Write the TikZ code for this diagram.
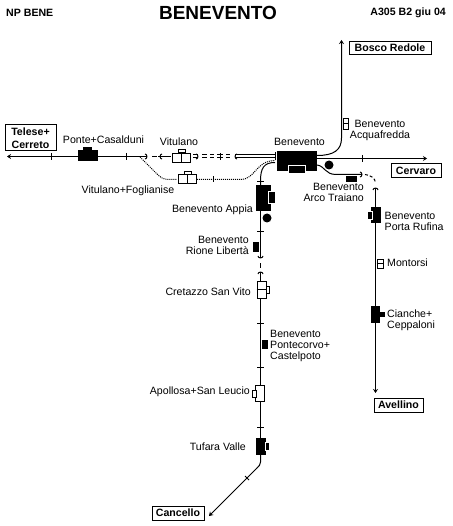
\documentclass[tikz,border=0pt]{standalone}
\usepackage{fontspec}
\setmainfont{Liberation Sans}
\usetikzlibrary{arrows.meta}
\tikzset{
  lbl/.style={inner sep=0pt,font=\fontsize{10.6}{11}\selectfont},
  endbox/.style={draw,line width=1pt,fill=white,inner sep=0pt,align=center,font=\fontsize{10.6}{12.5}\selectfont\bfseries},
  blk/.style={fill=black,inner sep=0pt},
  wht/.style={draw,line width=1pt,fill=white,inner sep=0pt},
  trk/.style={line width=1pt},
  dot/.style={line width=1pt,dash pattern=on 1pt off 1pt},
  hook/.pic={\draw[line width=1pt] (-2,-2.5) .. controls (0.5,-2.5) and (0.5,2.5) .. (-2,2.5);}
}
\begin{document}
\begin{tikzpicture}[x=1pt,y=-1pt]
  \useasboundingbox (0,0) rectangle (452,526);
  % header
  \node[lbl,anchor=west,font=\fontsize{10.6}{11}\selectfont\bfseries] (sigla) at (6,13) {NP BENE};
  \node[lbl,anchor=center,font=\fontsize{19}{20}\selectfont\bfseries] (titolo) at (218,13) {BENEVENTO};
  \node[lbl,anchor=east,font=\fontsize{10.6}{11}\selectfont\bfseries] (rif) at (446,13) {A305 B2 giu 04};
  % termini
  \node[endbox,minimum width=51pt,minimum height=26pt] (telese) at (30.5,138) {Telese+\\Cerreto};
  \node[endbox,minimum width=82pt,minimum height=13pt] (bosco) at (390,48) {Bosco Redole};
  \node[endbox,minimum width=50pt,minimum height=14pt] (cervaro) at (416,171) {Cervaro};
  \node[endbox,minimum width=49pt,minimum height=14pt] (avellino) at (398.5,405) {Avellino};
  \node[endbox,minimum width=52pt,minimum height=14pt] (cancello) at (178,513) {Cancello};
  % free ends
  \coordinate (w) at (7,156.5);
  \coordinate (n) at (341.5,40);
  \coordinate (e) at (427,158.5);
  \coordinate (s) at (375.5,393);
  \coordinate (sw) at (209,516);
  % tracks
  \node[blk,minimum width=40pt,minimum height=20pt] (bn) at (297,161) {};
  \draw[trk,-{Stealth[length=4pt,width=5pt]}] (147,156.5) -- (w);
  \draw[trk] (275,155) -- (235,155);
  \draw[trk] (275,158) -- (235,158);
  \draw[trk] (275.5,152) -- (275.5,160);
  \draw[trk] (260.5,185) -- (260.5,181) .. controls (260.5,168) and (264,162.5) .. (275,162.5);
  \draw[trk,-{Stealth[length=4pt,width=5pt]}] (317,158.5) -- (e);
  \draw[trk,-{Stealth[length=4pt,width=5pt]}] (317,155.5) .. controls (334,155.5) and (341.5,150) .. (341.5,138) -- (n);
  \draw[trk] (317,165) .. controls (325,166) and (325,174.5) .. (336,174.5) -- (362,174.5);
  \draw[trk,dash pattern=on 3pt off 2pt] (365,174.5) .. controls (370,175) and (375.5,178) .. (375.5,183);
  \draw[trk,-{Stealth[length=4pt,width=5pt]}] (375.5,188) -- (s);
  \draw[trk] (260.5,211) -- (260.5,258);
  \draw[trk] (260.5,263) -- (260.5,268);
  \draw[trk] (260.5,272) -- (260.5,282);
  \draw[trk] (260.5,298) -- (260.5,386);
  \draw[trk] (260.5,400) -- (260.5,439);
  \draw[line width=1pt] (260.5,454) -- (260.5,462) .. controls (260.5,465) and (259,466) .. (257,468);
  \draw[line width=0.8pt,-{Stealth[length=4pt,width=5pt]}] (257,468) -- (sw);
  % dashes on the Vitulano section
  \draw[trk] (152,156.5) -- (157,156.5);
  \foreach \a/\b in {193/198,202/207,210/214,217/223,226/230}{
    \draw[trk] (\a,155) -- (\b,155);
    \draw[trk] (\a,158) -- (\b,158);
  }
  \draw[trk] (158,156.5) -- (171,156.5);
  % dotted Vitulano+Foglianise
  \draw[dot] (140,157) -- (156,173) .. controls (160,177) and (163,179.5) .. (168,179.5) -- (177,179.5);
  \draw[dot] (197,179.5) -- (240,179.5) .. controls (256,179.5) and (255,161) .. (275,160.5);
  % ticks
  \foreach \x/\y in {51.5/156.5,126.5/156.5,220.5/156.5,362.5/158.5}{
    \draw[trk] (\x,\y-3.5) -- (\x,\y+3.5);
  }
  \draw[trk] (213.5,176.5) -- (213.5,182.5);
  \foreach \y in {181.5,231.5,323.5,367.5,427.5}{
    \draw[trk] (257,\y) -- (264,\y);
  }
  \draw[line width=0.8pt] (245,476) -- (249,480);
  % hooks
  \foreach \x/\y/\r in {147/156.5/0,160/156.5/180,198/156.5/0,235/156.5/180,260.5/258/-90,260.5/272/90,375.5/188/90,362/174.5/0}{
    \path (\x,\y) pic[rotate=\r] {hook};
  }
  % stations
  \node[blk,minimum width=20pt,minimum height=11pt] (ponte) at (88,155.5) {};
  \node[blk,minimum width=9pt,minimum height=3pt] (pontetab) at (87.5,149) {};
  \draw[trk] (ponte.west |- w) -- (51,156.5) (ponte.east |- w) -- (147,156.5);
  \node[wht,minimum width=18pt,minimum height=9pt] (vit) at (181,158.5) {};
  \node[wht,minimum width=7pt,minimum height=3pt] (vittab) at (181.5,151.5) {};
  \draw[line width=1pt] (vit.north) -- (vit.south);
  \node[wht,minimum width=18pt,minimum height=9pt] (fog) at (187,179.5) {};
  \node[wht,minimum width=7pt,minimum height=3pt] (fogtab) at (187.5,173) {};
  \draw[line width=1pt] (fog.north) -- (fog.south);
  \node[blk,draw=white,line width=1pt,minimum width=17pt,minimum height=8pt] (bntab) at (297,170) {};
  \node[blk,circle,minimum size=9pt] (bnc) at (329,165) {};
  \node[blk,minimum width=11pt,minimum height=6pt] (arco) at (351.5,179) {};
  \node[wht,minimum width=5pt,minimum height=11pt] (acqua) at (346,124) {};
  \draw[line width=1pt] (acqua.west) -- (acqua.east);
  \node[blk,minimum width=15pt,minimum height=26pt] (appia) at (263.5,198) {};
  \node[blk,draw=white,line width=1pt,minimum width=7pt,minimum height=12pt] (appiatab) at (272,197.5) {};
  \node[blk,circle,minimum size=9pt] (appiac) at (267,218) {};
  \node[blk,minimum width=6pt,minimum height=10pt] (rione) at (256,247) {};
  \node[wht,minimum width=9pt,minimum height=17pt] (cret) at (261.5,289.5) {};
  \draw[line width=1.5pt] (cret.west) -- (cret.east);
  \node[wht,minimum width=3pt,minimum height=7pt] (crettab) at (268,289.5) {};
  \node[blk,minimum width=6pt,minimum height=9pt] (ponteco) at (265,344.5) {};
  \node[wht,minimum width=9pt,minimum height=16pt] (apo) at (259.5,393) {};
  \node[wht,minimum width=4pt,minimum height=7pt] (apotab) at (254,393.5) {};
  \node[blk,minimum width=10pt,minimum height=17pt] (tuf) at (261,446.5) {};
  \node[blk,draw=white,line width=1pt,minimum width=4pt,minimum height=8pt] (tuftab) at (267.5,446) {};
  \node[blk,minimum width=10pt,minimum height=16pt] (rufina) at (376,215) {};
  \node[blk,draw=white,line width=1pt,minimum width=5pt,minimum height=8pt] (rufinatab) at (370,215.5) {};
  \node[wht,minimum width=6pt,minimum height=9pt] (mont) at (380,263.5) {};
  \draw[line width=1pt] (mont.west) -- (mont.east);
  \node[blk,minimum width=9pt,minimum height=17pt] (cian) at (375.5,314.5) {};
  \node[blk,minimum width=5pt,minimum height=5pt] (ciantab) at (382.5,314.5) {};
  % names
  \node[lbl,anchor=center] (lponte) at (103.5,140) {Ponte+Casalduni};
  \node[lbl,anchor=center] (lvit) at (179,142) {Vitulano};
  \node[lbl,anchor=center] (lfog) at (128,191) {Vitulano+Foglianise};
  \node[lbl,anchor=center] (lbn) at (299.5,142) {Benevento};
  \node[lbl,align=center] (lacqua) at (380,130) {Benevento\\Acquafredda};
  \node[lbl,align=right,anchor=east] (larco) at (364,192) {Benevento\\Arco Traiano};
  \node[lbl,anchor=east] (lappia) at (253,210) {Benevento Appia};
  \node[lbl,align=right,anchor=east] (lrione) at (249,245) {Benevento\\Rione Libertà};
  \node[lbl,anchor=east] (lcret) at (251,292) {Cretazzo San Vito};
  \node[lbl,align=left,anchor=west] (lpc) at (270,346) {Benevento\\Pontecorvo+\\Castelpoto};
  \node[lbl,anchor=east] (lapo) at (250,392) {Apollosa+San Leucio};
  \node[lbl,anchor=east] (ltuf) at (246,447) {Tufara Valle};
  \node[lbl,align=left,anchor=west] (lruf) at (384.5,221) {Benevento\\Porta Rufina};
  \node[lbl,anchor=west] (lmont) at (387,263) {Montorsi};
  \node[lbl,align=left,anchor=west] (lcian) at (387,320.5) {Cianche+\\Ceppaloni};
\end{tikzpicture}
\end{document}
